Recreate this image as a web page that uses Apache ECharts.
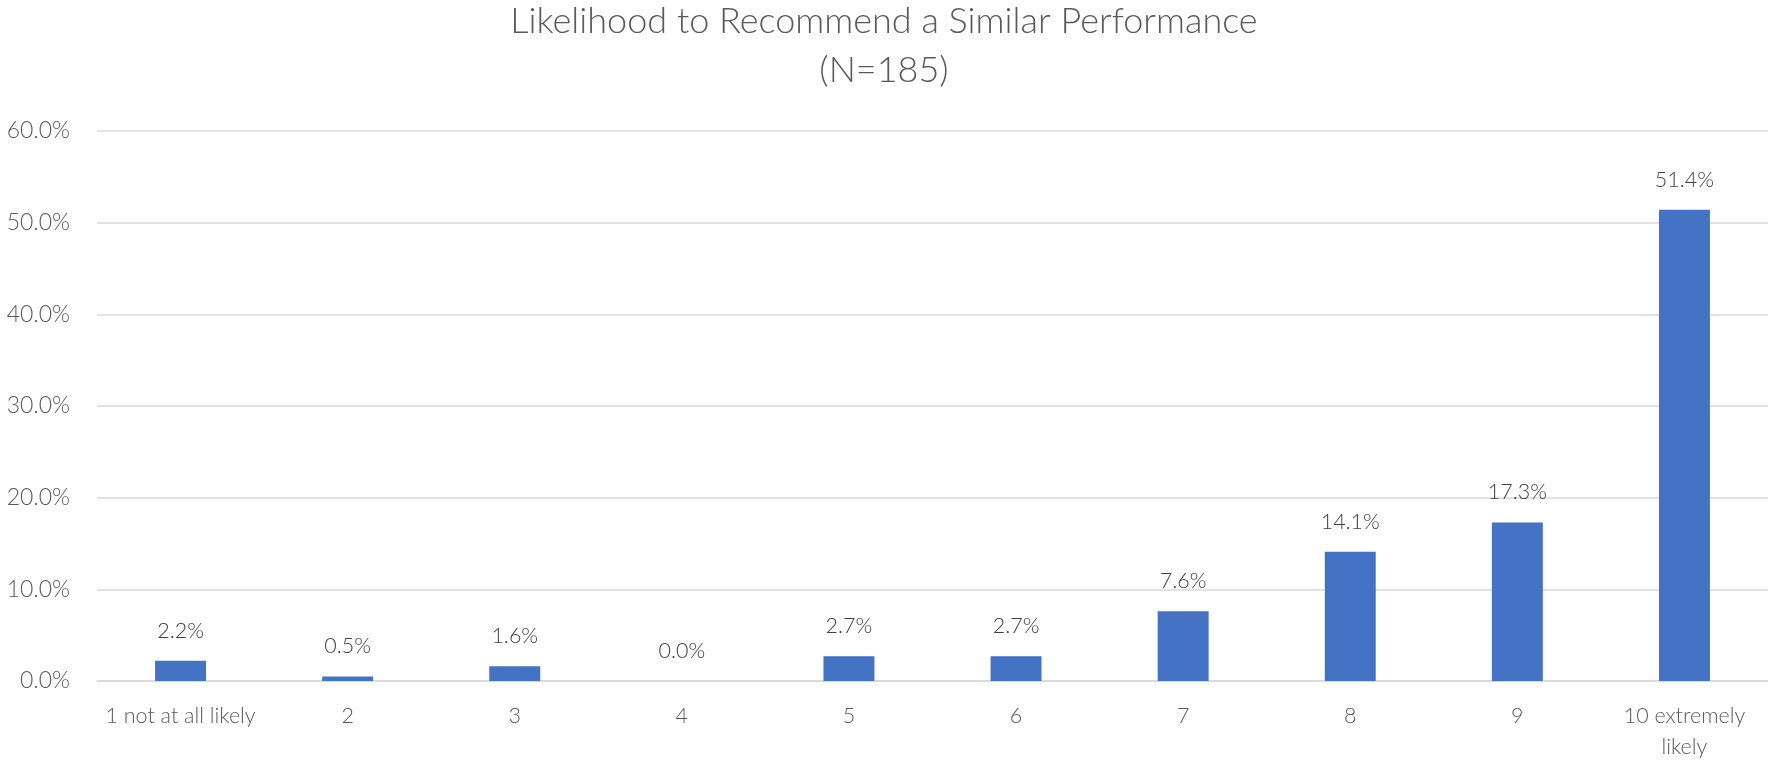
<!DOCTYPE html>
<html>
<head>
<meta charset="utf-8">
<script src="https://cdn.jsdelivr.net/npm/echarts@6/dist/echarts.min.js"></script>
<style>html,body{margin:0;padding:0;background:#fff;}#c{width:1768px;height:764px;}</style>
</head>
<body>
<div id="c"></div>
<script>
const titleText = 'Likelihood to Recommend a Similar Performance\n(N=185)';
const categories = ['1 not at all likely', '2', '3', '4', '5', '6', '7', '8', '9', '10 extremely likely'];
const values = [2.2, 0.5, 1.6, 0.0, 2.7, 2.7, 7.6, 14.1, 17.3, 51.4];
const yMin = 0, yMax = 60, yStep = 10;

const chart = echarts.init(document.getElementById('c'), null, {renderer: 'canvas'});
const textColor = '#595959';
const font = 'Lato';
chart.setOption({
  animation: false,
  backgroundColor: '#ffffff',
  title: {
    text: titleText,
    left: 'center',
    top: -3,
    padding: 0,
    textStyle: {fontFamily: font, fontWeight: 300, fontSize: 36, color: textColor, lineHeight: 49}
  },
  grid: {left: 97, right: -2, top: 131, bottom: 83, containLabel: false},
  xAxis: {
    type: 'category',
    data: categories,
    axisLine: {show: true, lineStyle: {color: '#d9d9d9', width: 1.5}},
    axisTick: {show: false},
    axisLabel: {
      interval: 0,
      margin: 20,
      fontFamily: font, fontWeight: 300, fontSize: 21.5, color: textColor, lineHeight: 31,
      formatter: function (v) { return v === '10 extremely likely' ? '10 extremely\nlikely' : v; }
    }
  },
  yAxis: {
    type: 'value',
    min: yMin, max: yMax, interval: yStep,
    axisLine: {show: false},
    axisTick: {show: false},
    splitLine: {lineStyle: {color: '#d9d9d9', width: 1.5}},
    axisLabel: {
      margin: 27,
      fontFamily: font, fontWeight: 300, fontSize: 23, color: textColor,
      formatter: function (v) { return v.toFixed(1) + '%'; }
    }
  },
  series: [{
    type: 'bar',
    data: values,
    barWidth: '30.5%',
    itemStyle: {color: '#4472C4'},
    label: {
      show: true, position: 'top', distance: 19,
      fontFamily: font, fontWeight: 300, fontSize: 21.5, color: '#404040',
      formatter: function (p) { return p.value.toFixed(1) + '%'; }
    }
  }]
});
</script>
</body>
</html>
